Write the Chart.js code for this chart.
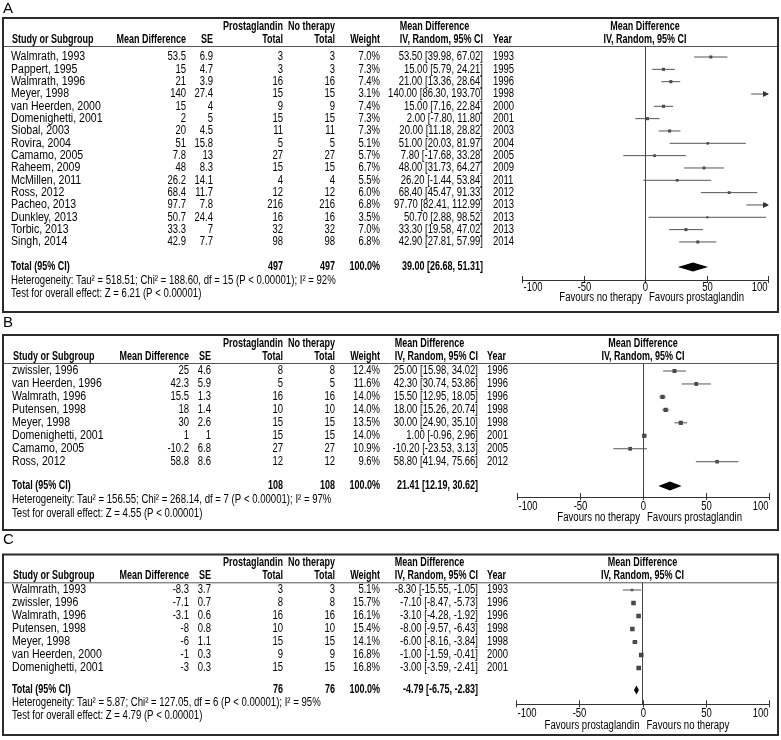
<!DOCTYPE html>
<html lang="en">
<head>
<meta charset="UTF-8">
<title>Prostaglandin vs no therapy – forest plots</title>
<script src="https://cdn.jsdelivr.net/npm/chart.js"></script>
<style>
  body { margin: 0; background: #fff; }
  .panel { position: absolute; left: 0; }
</style>
</head>
<body>
<div class="panel" style="top:0px"><canvas id="chartA" width="781" height="317"></canvas></div>
<div class="panel" style="top:310px"><canvas id="chartB" width="781" height="226"></canvas></div>
<div class="panel" style="top:528px"><canvas id="chartC" width="781" height="212"></canvas></div>

<script>
// ---- panel A data ----
const studiesA = ['Walmrath, 1993', 'Pappert, 1995', 'Walmrath, 1996', 'Meyer, 1998', 'van Heerden, 2000', 'Domenighetti, 2001', 'Siobal, 2003', 'Rovira, 2004', 'Camamo, 2005', 'Raheem, 2009', 'McMillen, 2011', 'Ross, 2012', 'Pacheo, 2013', 'Dunkley, 2013', 'Torbic, 2013', 'Singh, 2014'];
const mdA = [53.5, 15, 21, 140, 15, 2, 20, 51, 7.8, 48, 26.2, 68.4, 97.7, 50.7, 33.3, 42.9];
const seA = [6.9, 4.7, 3.9, 27.4, 4, 5, 4.5, 15.8, 13, 8.3, 14.1, 11.7, 7.8, 24.4, 7, 7.7];
const nPgA = [3, 3, 16, 15, 9, 15, 11, 5, 27, 15, 4, 12, 216, 16, 32, 98];
const nNtA = [3, 3, 16, 15, 9, 15, 11, 5, 27, 15, 4, 12, 216, 16, 32, 98];
const weightA = [7.0, 7.3, 7.4, 3.1, 7.4, 7.3, 7.3, 5.1, 5.7, 6.7, 5.5, 6.0, 6.8, 3.5, 7.0, 6.8];
const loA = [39.98, 5.79, 13.36, 86.30, 7.16, -7.80, 11.18, 20.03, -17.68, 31.73, -1.44, 45.47, 82.41, 2.88, 19.58, 27.81];
const hiA = [67.02, 24.21, 28.64, 193.70, 22.84, 11.80, 28.82, 81.97, 33.28, 64.27, 53.84, 91.33, 112.99, 98.52, 47.02, 57.99];
const yearA = [1993, 1995, 1996, 1998, 2000, 2001, 2003, 2004, 2005, 2009, 2011, 2012, 2013, 2013, 2013, 2014];
const totalA = [39.00, 26.68, 51.31];
const totalNA = 497;
const hetA = 'Heterogeneity: Tau² = 518.51; Chi² = 188.60, df = 15 (P < 0.00001); I² = 92%';
const testA = 'Test for overall effect: Z = 6.21 (P < 0.00001)';

// ---- panel B data ----
const studiesB = ['zwissler, 1996', 'van Heerden, 1996', 'Walmrath, 1996', 'Putensen, 1998', 'Meyer, 1998', 'Domenighetti, 2001', 'Camamo, 2005', 'Ross, 2012'];
const mdB = [25, 42.3, 15.5, 18, 30, 1, -10.2, 58.8];
const seB = [4.6, 5.9, 1.3, 1.4, 2.6, 1, 6.8, 8.6];
const nPgB = [8, 5, 16, 10, 15, 15, 27, 12];
const nNtB = [8, 5, 16, 10, 15, 15, 27, 12];
const weightB = [12.4, 11.6, 14.0, 14.0, 13.5, 14.0, 10.9, 9.6];
const loB = [15.98, 30.74, 12.95, 15.26, 24.90, -0.96, -23.53, 41.94];
const hiB = [34.02, 53.86, 18.05, 20.74, 35.10, 2.96, 3.13, 75.66];
const yearB = [1996, 1996, 1996, 1998, 1998, 2001, 2005, 2012];
const totalB = [21.41, 12.19, 30.62];
const totalNB = 108;
const hetB = 'Heterogeneity: Tau² = 156.55; Chi² = 268.14, df = 7 (P < 0.00001); I² = 97%';
const testB = 'Test for overall effect: Z = 4.55 (P < 0.00001)';

// ---- panel C data ----
const studiesC = ['Walmrath, 1993', 'zwissler, 1996', 'Walmrath, 1996', 'Putensen, 1998', 'Meyer, 1998', 'van Heerden, 2000', 'Domenighetti, 2001'];
const mdC = [-8.3, -7.1, -3.1, -8, -6, -1, -3];
const seC = [3.7, 0.7, 0.6, 0.8, 1.1, 0.3, 0.3];
const nPgC = [3, 8, 16, 10, 15, 9, 15];
const nNtC = [3, 8, 16, 10, 15, 9, 15];
const weightC = [5.1, 15.7, 16.1, 15.4, 14.1, 16.8, 16.8];
const loC = [-15.55, -8.47, -4.28, -9.57, -8.16, -1.59, -3.59];
const hiC = [-1.05, -5.73, -1.92, -6.43, -3.84, -0.41, -2.41];
const yearC = [1993, 1996, 1996, 1998, 1998, 2000, 2001];
const totalC = [-4.79, -6.75, -2.83];
const totalNC = 76;
const hetC = 'Heterogeneity: Tau² = 5.87; Chi² = 127.05, df = 6 (P < 0.00001); I² = 95%';
const testC = 'Test for overall effect: Z = 4.79 (P < 0.00001)';

const xTicks = [-100, -50, 0, 50, 100];

// layout of each panel, y in page pixels (shifted by the canvas top when drawn)
const colsA = { name: 11, md: 186, se: 213, pg: 283, nt: 335, wt: 380, ci: 483, year: 493 };
const colsBC = { name: 12, md: 189, se: 211, pg: 283, nt: 335, wt: 380, ci: 478, year: 487 };
const layoutA = { top: 0, letter: 'A', letterY: 8.5, boxTop: 18, boxBottom: 312, hdr1: 27, hdr2: 40, hdrLine: 46, row0: 57, step: 12.33, totalY: 267, hetY: 281, testY: 294, axisY: 280, tickY: 287.5, favY: 298, xL: 522, xR: 768, cols: colsA, favL: 'Favours no therapy', favR: 'Favours prostaglandin' };
const layoutB = { top: 310, letter: 'B', letterY: 322.5, boxTop: 335, boxBottom: 530, hdr1: 343.3, hdr2: 356.7, hdrLine: 363, row0: 371, step: 12.96, totalY: 486, hetY: 500, testY: 513.3, axisY: 497, tickY: 506.5, favY: 517.3, xL: 517, xR: 769, cols: colsBC, favL: 'Favours no therapy', favR: 'Favours prostaglandin' };
const layoutC = { top: 528, letter: 'C', letterY: 540, boxTop: 554.5, boxBottom: 735, hdr1: 563, hdr2: 575.5, hdrLine: 582.3, row0: 590, step: 13, totalY: 690, hetY: 703, testY: 716, axisY: 704.3, tickY: 713.7, favY: 725.7, xL: 516, xR: 769, cols: colsBC, favL: 'Favours prostaglandin', favR: 'Favours no therapy' };
const yKeys = ['letterY', 'boxTop', 'boxBottom', 'hdr1', 'hdr2', 'hdrLine', 'row0', 'totalY', 'hetY', 'testY', 'axisY', 'tickY', 'favY'];

const FONT = '"Liberation Sans", Arial, sans-serif';
const FS = 12;
// the source text is tall and narrow, so squeeze it sideways
const SQ = { name: 0.88, num: 0.79, bold: 0.75, note: 0.8 };

function txt(ctx, s, x, y, align, kind, size, sx) {
    ctx.save();
    ctx.font = (kind === 'bold' ? 'bold ' : '') + (size || FS) + 'px ' + FONT;
    ctx.fillStyle = '#000';
    ctx.textBaseline = 'middle';
    ctx.textAlign = align;
    ctx.translate(x, y);
    ctx.scale(sx || SQ[kind || 'name'], 1);
    ctx.fillText(s, 0, 0);
    ctx.restore();
}

function textWidth(ctx, s, kind) {
    ctx.save();
    ctx.font = (kind === 'bold' ? 'bold ' : '') + FS + 'px ' + FONT;
    const w = ctx.measureText(s).width * SQ[kind];
    ctx.restore();
    return w;
}

function ciText(m, lo, hi) {
    return m.toFixed(2) + ' [' + lo.toFixed(2) + ', ' + hi.toFixed(2) + ']';
}

function drawTable(chart, L, d) {
    const ctx = chart.ctx;
    const xs = chart.scales.x, ys = chart.scales.y;
    const c = L.cols;

    // frame + header rule
    ctx.save();
    ctx.strokeStyle = '#2b2b2b';
    ctx.lineWidth = 2;
    ctx.strokeRect(3, L.boxTop, 775, L.boxBottom - L.boxTop);
    ctx.strokeStyle = '#555';
    ctx.lineWidth = 1;
    ctx.beginPath();
    ctx.moveTo(4, L.hdrLine + 0.5);
    ctx.lineTo(777, L.hdrLine + 0.5);
    ctx.stroke();
    ctx.restore();

    txt(ctx, L.letter, 3, L.letterY, 'left', 'name', 15, 1);

    // headers
    txt(ctx, 'Prostaglandin', c.pg, L.hdr1, 'right', 'bold');
    txt(ctx, 'No therapy', c.nt, L.hdr1, 'right', 'bold');
    const ivW = textWidth(ctx, 'IV, Random, 95% CI', 'bold');
    txt(ctx, 'Mean Difference', c.ci - ivW, L.hdr1, 'left', 'bold');
    txt(ctx, 'Study or Subgroup', c.name + 1, L.hdr2, 'left', 'bold');
    txt(ctx, 'Mean Difference', c.md, L.hdr2, 'right', 'bold');
    txt(ctx, 'SE', c.se, L.hdr2, 'right', 'bold');
    txt(ctx, 'Total', c.pg, L.hdr2, 'right', 'bold');
    txt(ctx, 'Total', c.nt, L.hdr2, 'right', 'bold');
    txt(ctx, 'Weight', c.wt, L.hdr2, 'right', 'bold');
    txt(ctx, 'IV, Random, 95% CI', c.ci, L.hdr2, 'right', 'bold');
    txt(ctx, 'Year', c.year, L.hdr2, 'left', 'bold');
    const x0 = xs.getPixelForValue(0);
    txt(ctx, 'Mean Difference', x0, L.hdr1, 'center', 'bold');
    txt(ctx, 'IV, Random, 95% CI', x0, L.hdr2, 'center', 'bold');

    // study rows
    d.studies.forEach((s, i) => {
        const y = ys.getPixelForValue(i);
        txt(ctx, s, c.name, y, 'left', 'name');
        txt(ctx, String(d.md[i]), c.md, y, 'right', 'num');
        txt(ctx, String(d.se[i]), c.se, y, 'right', 'num');
        txt(ctx, String(d.nPg[i]), c.pg, y, 'right', 'num');
        txt(ctx, String(d.nNt[i]), c.nt, y, 'right', 'num');
        txt(ctx, d.weight[i].toFixed(1) + '%', c.wt, y, 'right', 'num');
        txt(ctx, ciText(d.md[i], d.lo[i], d.hi[i]), c.ci, y, 'right', 'num');
        txt(ctx, String(d.year[i]), c.year, y, 'left', 'num');
    });

    // total row
    const ti = (L.totalY - L.row0) / L.step;
    const ty = ys.getPixelForValue(ti);
    txt(ctx, 'Total (95% CI)', c.name, ty, 'left', 'bold');
    txt(ctx, String(d.totalN), c.pg, ty, 'right', 'bold');
    txt(ctx, String(d.totalN), c.nt, ty, 'right', 'bold');
    txt(ctx, '100.0%', c.wt, ty, 'right', 'bold');
    txt(ctx, ciText(d.total[0], d.total[1], d.total[2]), c.ci, ty, 'right', 'bold');
    txt(ctx, d.het, c.name, L.hetY, 'left', 'note');
    txt(ctx, d.test, c.name, L.testY, 'left', 'note');

    // pooled diamond
    const dl = xs.getPixelForValue(d.total[1]);
    const dm = xs.getPixelForValue(d.total[0]);
    const dr = xs.getPixelForValue(d.total[2]);
    ctx.save();
    ctx.fillStyle = '#000';
    ctx.beginPath();
    ctx.moveTo(dl, ty);
    ctx.lineTo(dm, ty - 4.5);
    ctx.lineTo(dr, ty);
    ctx.lineTo(dm, ty + 4.5);
    ctx.closePath();
    ctx.fill();

    // arrows for intervals running off the scale
    ctx.fillStyle = '#333';
    d.studies.forEach((s, i) => {
        const y = ys.getPixelForValue(i);
        if (d.hi[i] > xs.max) {
            const xe = xs.getPixelForValue(xs.max);
            ctx.beginPath();
            ctx.moveTo(xe + 1, y);
            ctx.lineTo(xe - 5, y - 3);
            ctx.lineTo(xe - 5, y + 3);
            ctx.closePath();
            ctx.fill();
        }
        if (d.lo[i] < xs.min) {
            const xe = xs.getPixelForValue(xs.min);
            ctx.beginPath();
            ctx.moveTo(xe - 1, y);
            ctx.lineTo(xe + 5, y - 3);
            ctx.lineTo(xe + 5, y + 3);
            ctx.closePath();
            ctx.fill();
        }
    });

    // axis ticks + labels
    ctx.strokeStyle = '#333';
    ctx.lineWidth = 1;
    const last = xs.ticks.length - 1;
    xs.ticks.forEach((t, k) => {
        const px = Math.round(xs.getPixelForValue(t.value)) + 0.5;
        ctx.beginPath();
        ctx.moveTo(px, L.axisY - 4);
        ctx.lineTo(px, L.axisY + 3);
        ctx.stroke();
        const align = k === 0 ? 'left' : (k === last ? 'right' : 'center');
        const off = k === 0 ? 1 : (k === last ? -1 : 0);
        txt(ctx, t.label, px + off, L.tickY, align, 'num');
    });
    ctx.restore();

    txt(ctx, L.favL, x0 - 3, L.favY, 'right', 'note');
    txt(ctx, L.favR, x0 + 4, L.favY, 'left', 'note');
}

function buildPanel(id, layout, d) {
    const canvas = document.getElementById(id);
    const W = canvas.width, H = canvas.height;
    const L = Object.assign({}, layout);
    yKeys.forEach(k => { L[k] = layout[k] - layout.top; });
    const yMin = (L.hdrLine - L.row0) / L.step;
    const yMax = (L.axisY - L.row0) / L.step;

    const whiskers = d.studies.map((s, i) => ({
        type: 'scatter',
        showLine: true,
        borderColor: '#555',
        borderWidth: 1,
        pointRadius: 0,
        data: [{ x: Math.max(d.lo[i], -100), y: i }, { x: Math.min(d.hi[i], 100), y: i }]
    }));
    const squares = {
        type: 'scatter',
        data: d.md.map((m, i) => ({ x: m, y: i })),
        pointStyle: 'rect',
        pointRadius: d.weight.map(w => 0.8 * Math.sqrt(w)),
        backgroundColor: '#444',
        borderWidth: 0
    };

    return new Chart(canvas, {
        type: 'scatter',
        data: { datasets: [...whiskers, squares] },
        options: {
            responsive: false,
            animation: false,
            devicePixelRatio: 1,
            events: [],
            layout: { padding: { left: L.xL, right: W - L.xR, top: L.hdrLine, bottom: H - L.axisY } },
            plugins: { legend: { display: false }, tooltip: { enabled: false } },
            scales: {
                x: {
                    type: 'linear', min: -100, max: 100,
                    afterBuildTicks: s => { s.ticks = xTicks.map(v => ({ value: v })); },
                    ticks: { display: false },
                    grid: {
                        drawTicks: false,
                        color: g => (g.tick && g.tick.value === 0) ? '#444' : 'rgba(0,0,0,0)'
                    },
                    border: { display: true, color: '#333', width: 1 },
                    afterFit: s => { s.height = 0; }
                },
                y: { type: 'linear', display: false, reverse: true, min: yMin, max: yMax }
            }
        },
        plugins: [{ id: 'table' + id, afterDraw: chart => drawTable(chart, L, d) }]
    });
}

buildPanel('chartA', layoutA, { studies: studiesA, md: mdA, se: seA, nPg: nPgA, nNt: nNtA, weight: weightA, lo: loA, hi: hiA, year: yearA, total: totalA, totalN: totalNA, het: hetA, test: testA });
buildPanel('chartB', layoutB, { studies: studiesB, md: mdB, se: seB, nPg: nPgB, nNt: nNtB, weight: weightB, lo: loB, hi: hiB, year: yearB, total: totalB, totalN: totalNB, het: hetB, test: testB });
buildPanel('chartC', layoutC, { studies: studiesC, md: mdC, se: seC, nPg: nPgC, nNt: nNtC, weight: weightC, lo: loC, hi: hiC, year: yearC, total: totalC, totalN: totalNC, het: hetC, test: testC });
</script>
</body>
</html>
